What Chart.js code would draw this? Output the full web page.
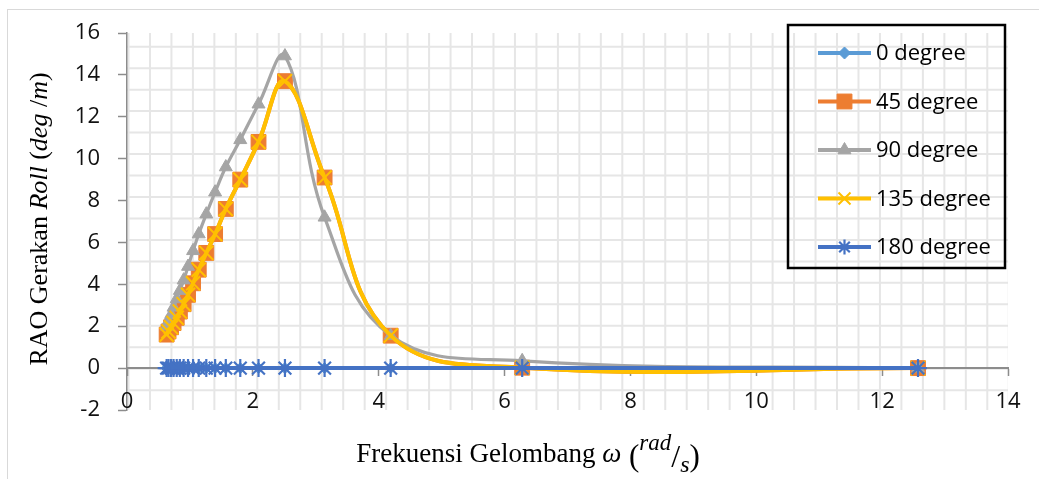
<!DOCTYPE html>
<html>
<head>
<meta charset="utf-8">
<script src="https://cdn.jsdelivr.net/npm/chart.js@4.4.1/dist/chart.umd.min.js"></script>
<style>
html, body { margin: 0; padding: 0; background: #fff; }
#wrap { width: 1039px; height: 479px; }
</style>
</head>
<body>
<div id="wrap"><canvas id="raoChart" width="1039" height="479"></canvas></div>
<script>
// ======= 資料 =======
const omega = [0.63, 0.66, 0.70, 0.74, 0.79, 0.84, 0.90, 0.97, 1.05, 1.14,
               1.26, 1.40, 1.57, 1.80, 2.09, 2.51, 3.14, 4.19, 6.28, 12.57];
const rao0   = [0, 0, 0, 0, 0, 0, 0, 0, 0, 0, 0, 0, 0, 0, 0, 0, 0, 0, 0, 0];
const rao45  = [1.6, 1.75, 1.95, 2.15, 2.4, 2.7, 3.05, 3.5, 4.05, 4.7,
                5.5, 6.4, 7.6, 9.0, 10.8, 13.7, 9.1, 1.55, 0.02, 0];
const rao90  = [2.0, 2.25, 2.55, 2.9, 3.3, 3.7, 4.2, 4.85, 5.6, 6.4,
                7.35, 8.4, 9.6, 10.9, 12.6, 14.9, 7.2, 1.55, 0.35, 0];
const rao135 = [1.6, 1.75, 1.95, 2.15, 2.4, 2.7, 3.05, 3.5, 4.05, 4.7,
                5.5, 6.4, 7.6, 9.0, 10.8, 13.7, 9.1, 1.55, 0.02, 0];
const rao180 = [0, 0, 0, 0, 0, 0, 0, 0, 0, 0, 0, 0, 0, 0, 0, 0, 0, 0, 0, 0];

const seriesNames = ['0 degree', '45 degree', '90 degree', '135 degree', '180 degree'];
const xTicks = [0, 2, 4, 6, 8, 10, 12, 14];
const yTicks = [-2, 0, 2, 4, 6, 8, 10, 12, 14, 16];

const tickFont = { family: 'Open Sans', size: 22 };
const axisGray = '#8c8c8c';

function makeSet(label, values, color, style, radius, lineWidth, pbw, fill, order) {
    return {
        label: label,
        data: omega.map((x, i) => ({ x: x, y: values[i] })),
        borderColor: color,
        borderWidth: lineWidth,
        pointStyle: style,
        pointRadius: radius,
        pointBackgroundColor: fill,
        pointBorderColor: color,
        pointBorderWidth: pbw,
        tension: 0.4,
        fill: false,
        order: order
    };
}

const datasets = [
    makeSet(seriesNames[0], rao0,   '#5B9BD5', 'rectRot',  5.5, 4, 1, '#5B9BD5', 5),
    makeSet(seriesNames[1], rao45,  '#ED7D31', 'rect',    10.5, 4, 1, '#ED7D31', 4),
    makeSet(seriesNames[2], rao90,  '#A5A5A5', 'triangle', 7.5, 3.2, 1, '#A5A5A5', 3),
    makeSet(seriesNames[3], rao135, '#FFC000', 'crossRot', 10,  4, 2, '#FFC000', 2),
    makeSet(seriesNames[4], rao180, '#4472C4', 'star',     9,   4, 2.2, '#4472C4', 1)
];
const legendRadius = [6, 10.5, 7.5, 8.5, 7.5];

// ======= 背景：外框與工作表格線 =======
const cellGrid = {
    id: 'cellGrid',
    beforeDraw(chart) {
        const { ctx, chartArea: a } = chart;
        ctx.save();
        ctx.fillStyle = '#fff';
        ctx.fillRect(0, 0, chart.width, chart.height);
        ctx.strokeStyle = '#d9d9d9';
        ctx.lineWidth = 1;
        ctx.strokeRect(7.5, 9.5, chart.width + 20, chart.height + 20);

        ctx.beginPath();
        ctx.rect(a.left, a.top, a.right - a.left, a.bottom - a.top);
        ctx.clip();
        ctx.strokeStyle = '#e6e6e6';
        ctx.lineWidth = 2;
        const cell = 21.47;
        ctx.beginPath();
        for (let x = a.left + 1.5; x <= a.right + 1; x += cell) {
            ctx.moveTo(x, a.top);
            ctx.lineTo(x, a.bottom);
        }
        for (let y = a.top + 13.7; y <= a.bottom; y += cell) {
            ctx.moveTo(a.left, y);
            ctx.lineTo(a.right, y);
        }
        ctx.stroke();
        ctx.restore();
    }
};

// ======= X 軸刻度文字（畫在繪圖區底部內側） =======
const xLabels = {
    id: 'xLabels',
    afterDraw(chart) {
        const ctx = chart.ctx;
        const sx = chart.scales.x;
        ctx.save();
        ctx.fillStyle = '#111';
        ctx.font = '22px "Open Sans"';
        ctx.textAlign = 'center';
        ctx.textBaseline = 'middle';
        xTicks.forEach(v => {
            ctx.fillText(String(v), sx.getPixelForValue(v), chart.chartArea.bottom - 8);
        });
        ctx.restore();
    }
};

// ======= 圖例（有外框） =======
const boxLegend = {
    id: 'boxLegend',
    afterDraw(chart) {
        const ctx = chart.ctx;
        ctx.save();
        ctx.strokeStyle = '#000';
        ctx.lineWidth = 2.5;
        ctx.strokeRect(788, 25, 217, 243);
        chart.data.datasets.forEach((ds, i) => {
            const y = 53 + i * 48.5;
            ctx.strokeStyle = ds.borderColor;
            ctx.lineWidth = 4;
            ctx.beginPath();
            ctx.moveTo(818, y);
            ctx.lineTo(871, y);
            ctx.stroke();
            ctx.fillStyle = ds.pointBackgroundColor;
            ctx.strokeStyle = ds.pointBorderColor;
            ctx.lineWidth = ds.pointBorderWidth;
            Chart.helpers.drawPoint(ctx, {
                pointStyle: ds.pointStyle, radius: legendRadius[i],
                rotation: 0, borderWidth: ds.pointBorderWidth
            }, 844.5, y);
            ctx.fillStyle = '#000';
            ctx.font = '22px "Open Sans"';
            ctx.textAlign = 'left';
            ctx.textBaseline = 'middle';
            ctx.fillText(ds.label, 876, y + 1);
        });
        ctx.restore();
    }
};

// ======= 軸標題（混合字型） =======
function drawRich(ctx, segs) {
    let total = 0;
    segs.forEach(s => { ctx.font = s.font; s.w = ctx.measureText(s.t).width; total += s.w; });
    let cx = -total / 2;
    segs.forEach(s => {
        ctx.font = s.font;
        ctx.fillText(s.t, cx, s.dy || 0);
        cx += s.w;
    });
}

const axisTitles = {
    id: 'axisTitles',
    afterDraw(chart) {
        const ctx = chart.ctx;
        const serif = '"Liberation Serif", "Times New Roman", serif';
        ctx.save();
        ctx.fillStyle = '#000';
        ctx.textAlign = 'left';
        ctx.textBaseline = 'alphabetic';

        ctx.save();
        ctx.translate(47, 219);
        ctx.rotate(-Math.PI / 2);
        drawRich(ctx, [
            { t: 'RAO Gerakan ', font: '26px ' + serif },
            { t: 'Roll', font: 'italic 26px ' + serif },
            { t: ' (', font: '26px ' + serif },
            { t: 'deg', font: 'italic 26px ' + serif },
            { t: ' /', font: '26px ' + serif },
            { t: 'm', font: 'italic 26px ' + serif },
            { t: ')', font: '26px ' + serif }
        ]);
        ctx.restore();

        ctx.save();
        ctx.translate(528, 462);
        drawRich(ctx, [
            { t: 'Frekuensi Gelombang ', font: '27px ' + serif },
            { t: 'ω', font: 'italic 27px ' + serif },
            { t: ' (', font: '31px ' + serif, dy: 4 },
            { t: 'rad', font: 'italic 23px ' + serif, dy: -12 },
            { t: '/', font: '32px ' + serif, dy: 5 },
            { t: 's', font: 'italic 24px ' + serif, dy: 10 },
            { t: ')', font: '31px ' + serif, dy: 4 }
        ]);
        ctx.restore();
        ctx.restore();
    }
};

new Chart(document.getElementById('raoChart'), {
    type: 'line',
    data: { datasets: datasets },
    options: {
        responsive: false,
        animation: false,
        devicePixelRatio: 1,
        layout: { padding: { left: 0, top: 33, right: 31, bottom: 0 } },
        plugins: {
            legend: { display: false },
            tooltip: { enabled: false }
        },
        scales: {
            x: {
                type: 'linear',
                min: 0,
                max: 14,
                afterBuildTicks: s => { s.ticks = xTicks.map(v => ({ value: v })); },
                afterFit: s => { s.height = 69; },
                grid: { display: false, drawTicks: false },
                border: { display: false },
                ticks: { display: false }
            },
            x2: {
                type: 'linear',
                axis: 'x',
                position: { y: 0 },
                min: 0,
                max: 14,
                afterBuildTicks: s => { s.ticks = xTicks.map(v => ({ value: v })); },
                grid: {
                    display: true, drawOnChartArea: false, drawTicks: true,
                    tickLength: 7, tickColor: axisGray, tickWidth: 1.5
                },
                border: { display: true, color: axisGray, width: 2 },
                ticks: { display: false }
            },
            y: {
                min: -2,
                max: 16,
                afterBuildTicks: s => { s.ticks = yTicks.map(v => ({ value: v })); },
                afterFit: s => { s.width = 127; },
                grid: {
                    display: true, drawOnChartArea: false, drawTicks: true,
                    tickLength: 9, tickColor: axisGray, tickWidth: 1.5
                },
                border: { display: true, color: axisGray, width: 1.5 },
                ticks: { padding: 18, color: '#111', font: tickFont }
            }
        }
    },
    plugins: [cellGrid, boxLegend, axisTitles, xLabels]
});
</script>
</body>
</html>
